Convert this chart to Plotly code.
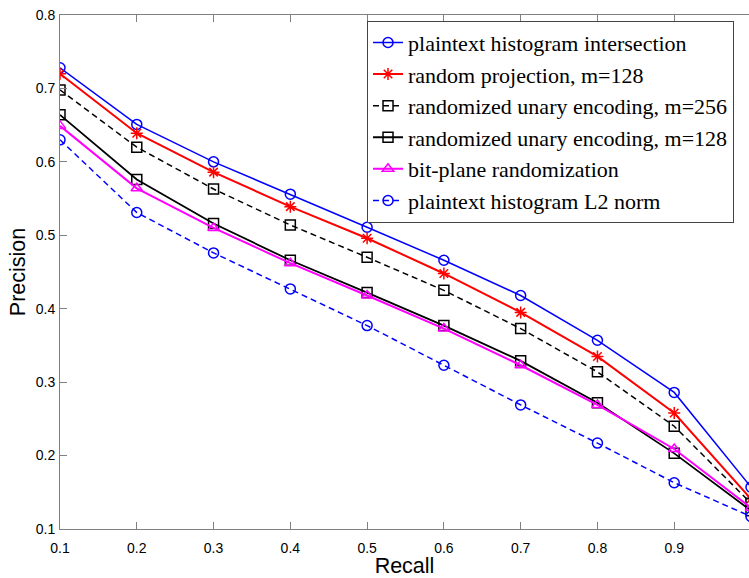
import plotly.graph_objects as go

# Precision-recall curves for the compared retrieval schemes
recall = [0.1, 0.2, 0.3, 0.4, 0.5, 0.6, 0.7, 0.8, 0.9, 1.0]
hist_intersection = [0.728, 0.651, 0.600, 0.556, 0.511, 0.466, 0.418, 0.357, 0.286, 0.157]
random_proj_128 = [0.720, 0.639, 0.586, 0.539, 0.496, 0.448, 0.395, 0.335, 0.258, 0.141]
unary_256 = [0.698, 0.620, 0.563, 0.514, 0.470, 0.425, 0.373, 0.314, 0.240, 0.135]
unary_128 = [0.664, 0.576, 0.516, 0.466, 0.422, 0.377, 0.329, 0.272, 0.203, 0.125]
bit_plane = [0.649, 0.564, 0.510, 0.462, 0.418, 0.373, 0.323, 0.269, 0.209, 0.129]
hist_l2 = [0.630, 0.531, 0.476, 0.427, 0.377, 0.323, 0.269, 0.217, 0.163, 0.117]

x_ticks = [0.1, 0.2, 0.3, 0.4, 0.5, 0.6, 0.7, 0.8, 0.9, 1.0]
y_ticks = [0.1, 0.2, 0.3, 0.4, 0.5, 0.6, 0.7, 0.8]

series = [
    ("plaintext histogram intersection", hist_intersection, "#0000ff", "solid", "circle-open", 1.5),
    ("random projection, m=128", random_proj_128, "#ff0000", "solid", "asterisk-open", 2),
    ("randomized unary encoding, m=256", unary_256, "#000000", "6px,4px", "square-open", 1.5),
    ("randomized unary encoding, m=128", unary_128, "#000000", "solid", "square-open", 1.8),
    ("bit-plane randomization", bit_plane, "#ff00ff", "solid", "triangle-up-open", 2),
    ("plaintext histogram L2 norm", hist_l2, "#0000ff", "6px,4px", "circle-open", 1.5),
]

fig = go.Figure()
for name, vals, color, dash, symbol, lw in series:
    fig.add_trace(go.Scatter(
        x=recall, y=vals, name=name, mode="lines+markers",
        line=dict(color=color, width=lw, dash=dash),
        marker=dict(symbol=symbol, size=10, color=color,
                    line=dict(color=color, width=1.5)),
    ))

axis_gray = "#808080"
sans = "Liberation Sans, Arial, sans-serif"

fig.update_layout(
    width=749, height=578,
    margin=dict(l=60, r=0, t=15, b=49),
    paper_bgcolor="white", plot_bgcolor="white",
    font=dict(family=sans, size=14, color="black"),
    showlegend=True,
    legend=dict(
        x=0.4456, y=0.989, xanchor="left", yanchor="top",
        bgcolor="white", bordercolor="#444444", borderwidth=1,
        font=dict(family="Liberation Serif, Times New Roman, serif", size=22, color="black"),
        tracegroupgap=0, itemwidth=30,
    ),
    xaxis=dict(
        range=[0.1, 0.9974], tickvals=x_ticks, ticktext=[str(v) for v in x_ticks],
        showgrid=False, zeroline=False,
        showline=True, linecolor=axis_gray, linewidth=1, mirror="ticks",
        ticks="inside", ticklen=7, tickcolor=axis_gray, ticklabelstandoff=6,
        title=dict(text="Recall", font=dict(family=sans, size=21.5), standoff=5),
    ),
    yaxis=dict(
        range=[0.1, 0.8], tickvals=y_ticks, ticktext=[str(v) for v in y_ticks],
        showgrid=False, zeroline=False,
        showline=True, linecolor=axis_gray, linewidth=1,
        ticks="inside", ticklen=7, tickcolor=axis_gray, ticklabelstandoff=1,
        title=dict(text="Precision", font=dict(family=sans, size=21.5), standoff=4),
    ),
    yaxis2=dict(
        overlaying="y", side="right", matches="y",
        range=[0.1, 0.8], tickvals=y_ticks, showticklabels=False,
        showgrid=False, zeroline=False, showline=False,
        ticks="inside", ticklen=7, tickcolor=axis_gray,
    ),
)

fig.write_html("out.html")
